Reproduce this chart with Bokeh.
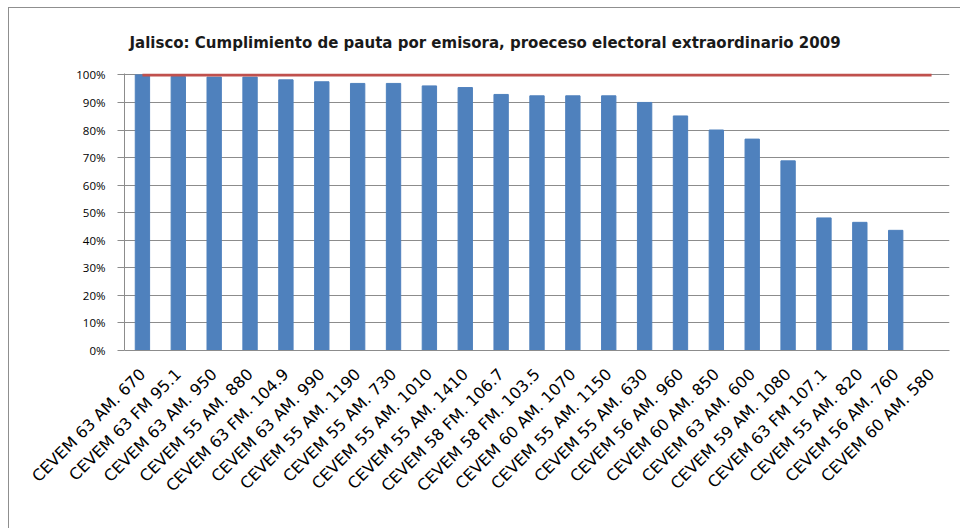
import math
from bokeh.plotting import figure
from bokeh.models import FactorRange, Range1d, SingleIntervalTicker, NumeralTickFormatter, ColumnDataSource
from bokeh.embed import file_html
from bokeh.resources import INLINE

categories = [
    "CEVEM 63 AM. 670", "CEVEM 63 FM 95.1", "CEVEM 63 AM. 950", "CEVEM 55 AM. 880",
    "CEVEM 63 FM. 104.9", "CEVEM 63 AM. 990", "CEVEM 55 AM. 1190", "CEVEM 55 AM. 730",
    "CEVEM 55 AM. 1010", "CEVEM 55 AM. 1410", "CEVEM 58 FM. 106.7", "CEVEM 58 FM. 103.5",
    "CEVEM 60 AM. 1070", "CEVEM 55 AM. 1150", "CEVEM 55 AM. 630", "CEVEM 56 AM. 960",
    "CEVEM 60 AM. 850", "CEVEM 63 AM. 600", "CEVEM 59 AM. 1080", "CEVEM 63 FM 107.1",
    "CEVEM 55 AM. 820", "CEVEM 56 AM. 760", "CEVEM 60 AM. 580",
]
cumplimiento = [1.000, 0.994, 0.992, 0.992, 0.982, 0.975, 0.969, 0.969, 0.960, 0.954,
                0.929, 0.924, 0.924, 0.924, 0.900, 0.851, 0.800, 0.767, 0.688, 0.481,
                0.465, 0.436, 0.0]
meta = [1.0] * len(categories)

title_text = "Jalisco: Cumplimiento de pauta por emisora, proeceso electoral extraordinario 2009"

src = ColumnDataSource(dict(cat=categories, val=cumplimiento, meta=meta))

p = figure(
    x_range=FactorRange(*categories, range_padding=0.0),
    y_range=Range1d(0, 1.005),
    width=952, height=521,
    output_backend="svg", toolbar_location=None,
    min_border_left=115, min_border_right=12, min_border_top=65, min_border_bottom=179,
)
p.styles = {"margin-left": "8px", "margin-top": "7px",
            "border-left": "1px solid #8f8f8f", "border-top": "1px solid #8f8f8f"}

p.title.text = title_text
p.title.text_font = "DejaVu Sans"
p.title.text_font_size = "15px"
p.title.text_font_style = "bold"
p.title.align = "left"
p.title.vertical_align = "top"
p.title.text_color = "#1a1a1a"
p.title.offset = 5
p.title.standoff = 39

p.vbar(x="cat", top="val", width=0.4, source=src, color="#4F81BD", line_color="#4F81BD")
p.line(x="cat", y="meta", source=src, line_color="#C0504D", line_width=3)

p.outline_line_color = None
p.xgrid.grid_line_color = None
p.ygrid.grid_line_color = "#8c8c8c"
p.ygrid.ticker = SingleIntervalTicker(interval=0.1)

p.yaxis.ticker = SingleIntervalTicker(interval=0.1)
p.yaxis.formatter = NumeralTickFormatter(format="0%")
p.yaxis.axis_line_color = "#8c8c8c"
p.yaxis.major_tick_line_color = "#8c8c8c"
p.yaxis.major_tick_out = 7
p.yaxis.major_tick_in = 0
p.yaxis.minor_tick_line_color = None
p.yaxis.major_label_text_font = "Open Sans"
p.yaxis.major_label_text_font_size = "11.5px"
p.yaxis.major_label_text_color = "#000000"
p.yaxis.major_label_standoff = 12

p.xaxis.axis_line_color = "#8c8c8c"
p.xaxis.major_tick_line_color = None
p.xaxis.minor_tick_line_color = None
p.xaxis.major_label_orientation = math.pi / 4
p.xaxis.major_label_text_font = "DejaVu Sans"
p.xaxis.major_label_text_font_size = "16px"
p.xaxis.major_label_text_color = "#000000"
p.xaxis.major_label_standoff = 15

open("out.html", "w").write(file_html(p, INLINE))
